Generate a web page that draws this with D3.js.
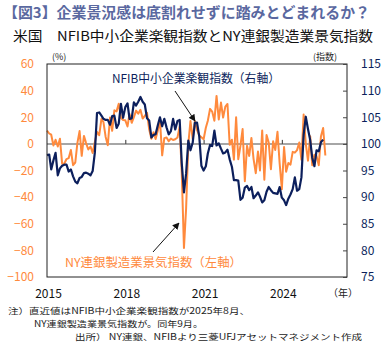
<!DOCTYPE html>
<html>
<head>
<meta charset="utf-8">
<script src="https://cdn.jsdelivr.net/npm/d3@7"></script>
<style>
  body { margin: 0; background: #fff; }
  svg { display: block; }
  text { font-family: "Noto Sans CJK JP", "Noto Sans", sans-serif; }
</style>
</head>
<body>
<div id="chart"></div>
<script>
// NFIB small business optimism index (right axis), monthly from 2015-01 to 2025-08
var nfib = [
  97.9, 98.0, 95.2, 96.9, 98.3, 94.1, 95.4, 95.9, 96.1, 96.1, 94.8, 95.2,
  93.9, 92.9, 92.6, 93.6, 93.8, 94.5, 94.6, 94.4, 94.1, 94.9, 98.4, 105.8,
  105.9, 105.3, 104.7, 104.5, 104.5, 103.6, 105.2, 105.3, 103.0, 103.8, 107.5, 104.9,
  106.9, 107.6, 104.7, 104.8, 107.8, 107.2, 107.9, 108.8, 107.9, 107.4, 104.8, 104.4,
  101.2, 101.7, 101.8, 103.5, 105.0, 103.3, 104.7, 103.1, 101.8, 102.4, 104.7, 102.7,
  104.3, 104.5, 96.4, 90.9, 94.4, 100.6, 98.8, 100.2, 104.0, 104.0, 101.4, 95.9,
  95.0, 95.8, 98.2, 99.8, 99.6, 102.5, 99.7, 100.1, 99.1, 98.2, 98.4, 98.9,
  97.1, 95.7, 93.2, 93.2, 93.1, 89.5, 89.9, 91.8, 92.1, 91.3, 91.9, 89.8,
  90.3, 90.9, 90.1, 89.0, 89.4, 91.0, 91.9, 91.3, 90.8, 90.7, 90.6, 91.9,
  89.9, 89.4, 88.5, 89.7, 90.5, 91.5, 93.7, 91.2, 91.5, 93.7, 101.7, 105.1,
  102.8, 100.7, 97.4, 95.8, 98.8, 98.6, 100.3, 100.8
];

// NY Fed Empire State manufacturing index (left axis, %), monthly from 2015-01 to 2025-09
var nyEmpire = [
  10.0, 7.8, 6.9, -1.2, 3.1, -2.0, 3.9, -14.9, -14.7, -11.4, -10.7, -4.6,
  -16.0, -14.0, 0.6, 9.6, -9.0, 6.0, 0.6, -4.2, -2.0, -6.8, 1.5, 9.0,
  6.5, 18.7, 16.4, 5.2, -1.0, 19.8, 9.8, 25.2, 24.4, 30.2, 19.4, 18.0,
  17.7, 13.1, 22.5, 15.8, 20.1, 25.0, 22.6, 25.6, 19.0, 21.1, 23.3, 10.9,
  3.9, 8.8, 3.7, 10.1, 17.8, -8.6, 4.3, 4.8, 2.0, 4.0, 2.9, 3.5,
  4.8, 12.9, -21.5, -78.2, -48.5, -0.2, 17.2, 3.7, 17.0, 10.5, 6.3, 4.9,
  3.5, 12.1, 17.4, 26.3, 24.3, 17.4, 36.0, 18.3, 31.0, 19.8, 28.0, 30.0,
  -0.7, 3.1, -11.8, 20.0, -11.6, -1.2, 11.1, -28.0, -1.5, -9.1, 4.5, -11.2,
  -22.0, -5.8, -20.0, 10.0, -27.0, 6.6, 1.1, -19.0, 1.9, -4.6, 9.1, -14.5,
  -34.0, -2.4, -20.9, -14.3, -15.6, -6.0, -6.6, -4.7, 1.0, -11.9, 22.0, 0.2,
  -12.6, 5.7, -16.0, -8.1, -9.2, -16.0, 5.5, 11.9, -8.7
];

var leftTicks = [60, 40, 20, 0, -20, -40, -60, -80, -100];
var rightTicks = [115, 110, 105, 100, 95, 90, 85, 80, 75];
var yearLabels = [2015, 2018, 2021, 2024];

var navy = '#0c1f5c', orange = '#ff8a3d';
var W = 387, H = 343;
var L = 47, R = 347, T = 64, B = 277;

var svg = d3.select('#chart').append('svg')
  .attr('width', W).attr('height', H);

var x = d3.scaleTime()
  .domain([new Date(2015, 0, 1), new Date(2026, 6, 1)])
  .range([L, R]);
var yL = d3.scaleLinear().domain([-100, 60]).range([B, T]);
var yR = d3.scaleLinear().domain([75, 115]).range([B, T]);

function monthDate(i) { return new Date(2015, i, 1); }

// titles
svg.append('text').attr('x', 3).attr('y', 18)
  .attr('font-size', 14.5).attr('font-weight', 'bold').attr('fill', '#5a68a0')
  .attr('textLength', 367).attr('lengthAdjust', 'spacingAndGlyphs')
  .text('【図3】企業景況感は底割れせずに踏みとどまれるか？');
svg.append('text').attr('x', 13).attr('y', 41)
  .attr('font-size', 13.5).attr('fill', '#111')
  .attr('textLength', 360).attr('lengthAdjust', 'spacingAndGlyphs')
  .text('米国　NFIB中小企業楽観指数とNY連銀製造業景気指数');

svg.append('text').attr('x', 52).attr('y', 60).attr('font-size', 9).attr('fill', '#222').text('(%)');
svg.append('text').attr('x', 313).attr('y', 60).attr('font-size', 9).attr('fill', '#222').text('(指数)');

// zero / 100 line
svg.append('line')
  .attr('x1', L).attr('x2', R).attr('y1', yL(0)).attr('y2', yL(0))
  .attr('stroke', '#a6a6a6').attr('stroke-width', 2);

// small year ticks on the zero line
svg.append('g')
  .attr('transform', 'translate(0,' + yL(0) + ')')
  .call(d3.axisTop(x)
    .tickValues(yearLabels.slice(1).map(function(y) { return new Date(y, 0, 1); }))
    .tickSize(4).tickFormat(''))
  .call(function(g) {
    g.select('.domain').remove();
    g.selectAll('line').attr('stroke', '#333');
  });

// lines
var lineL = d3.line()
  .x(function(d, i) { return x(monthDate(i)); })
  .y(function(d) { return yL(d); });
var lineR = d3.line()
  .x(function(d, i) { return x(monthDate(i)); })
  .y(function(d) { return yR(d); });

svg.append('path').datum(nyEmpire).attr('d', lineL)
  .attr('fill', 'none').attr('stroke', orange).attr('stroke-width', 2)
  .attr('stroke-linejoin', 'round');
svg.append('path').datum(nfib).attr('d', lineR)
  .attr('fill', 'none').attr('stroke', navy).attr('stroke-width', 2.2)
  .attr('stroke-linejoin', 'round');

// frame
svg.append('rect').attr('x', L).attr('y', T).attr('width', R - L).attr('height', B - T)
  .attr('fill', 'none').attr('stroke', '#222').attr('stroke-width', 1);

// left axis
svg.append('g')
  .attr('transform', 'translate(' + L + ',0)')
  .call(d3.axisLeft(yL).tickValues(leftTicks).tickSize(0).tickPadding(13))
  .call(function(g) {
    g.select('.domain').remove();
    g.selectAll('text').attr('fill', orange).attr('font-size', 12)
      .attr('font-family', '"Noto Sans", sans-serif');
  });

// right axis
svg.append('g')
  .attr('transform', 'translate(' + R + ',0)')
  .call(d3.axisRight(yR).tickValues(rightTicks).tickSizeInner(-4).tickSizeOuter(0).tickPadding(14))
  .call(function(g) {
    g.select('.domain').remove();
    g.selectAll('line').attr('stroke', '#444');
    g.selectAll('text').attr('fill', navy).attr('font-size', 12)
      .attr('font-family', '"Noto Sans", sans-serif');
  });

// year labels
svg.append('g')
  .attr('transform', 'translate(0,' + B + ')')
  .call(d3.axisBottom(x)
    .tickValues(yearLabels.map(function(y) { return new Date(y, 0, 1); }))
    .tickSize(0).tickPadding(12).tickFormat(d3.timeFormat('%Y')))
  .call(function(g) {
    g.select('.domain').remove();
    g.selectAll('text').attr('fill', '#111').attr('font-size', 12)
      .attr('font-family', '"Noto Sans", sans-serif').attr('dx', 1);
  });
svg.append('text').attr('x', 328).attr('y', 297).attr('font-size', 10).attr('fill', '#222').text('（年）');

// annotations
var defs = svg.append('defs');
defs.append('marker').attr('id', 'arr')
  .attr('viewBox', '0 0 10 10').attr('refX', 9).attr('refY', 5)
  .attr('markerWidth', 7).attr('markerHeight', 7).attr('orient', 'auto')
  .append('path').attr('d', 'M0,0L10,5L0,10z').attr('fill', '#111');

svg.append('text').attr('x', 112).attr('y', 83)
  .attr('font-size', 12).attr('fill', navy)
  .attr('textLength', 168).attr('lengthAdjust', 'spacingAndGlyphs')
  .text('NFIB中小企業楽観指数（右軸）');
svg.append('line').attr('x1', 175).attr('y1', 91).attr('x2', 195).attr('y2', 121)
  .attr('stroke', '#111').attr('stroke-width', 1).attr('marker-end', 'url(#arr)');

svg.append('text').attr('x', 65).attr('y', 267)
  .attr('font-size', 12).attr('fill', orange)
  .attr('textLength', 177).attr('lengthAdjust', 'spacingAndGlyphs')
  .text('NY連銀製造業景気指数（左軸）');
svg.append('line').attr('x1', 153).attr('y1', 252).attr('x2', 179).attr('y2', 223)
  .attr('stroke', '#111').attr('stroke-width', 1).attr('marker-end', 'url(#arr)');

// notes
var note = svg.append('g').attr('font-size', 8.5).attr('fill', '#222');
note.append('text').attr('x', 8).attr('y', 314)
  .attr('textLength', 242).attr('lengthAdjust', 'spacingAndGlyphs')
  .text('注）直近値はNFIB中小企業楽観指数が2025年8月、');
note.append('text').attr('x', 34).attr('y', 327)
  .attr('textLength', 169).attr('lengthAdjust', 'spacingAndGlyphs')
  .text('NY連銀製造業景気指数が。同年9月。');
note.append('text').attr('x', 75).attr('y', 340)
  .attr('textLength', 287).attr('lengthAdjust', 'spacingAndGlyphs')
  .text('出所） NY連銀、NFIBより三菱UFJアセットマネジメント作成');
</script>
</body>
</html>
